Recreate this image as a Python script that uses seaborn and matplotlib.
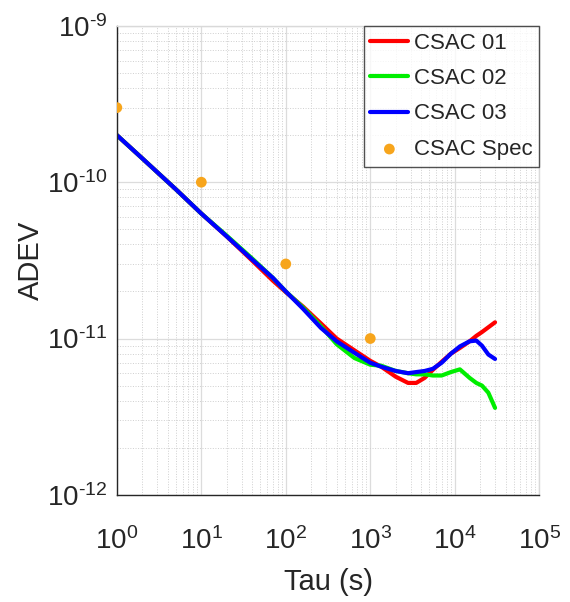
import numpy as np
import pandas as pd
import matplotlib
matplotlib.use('Agg')
import matplotlib.pyplot as plt
import matplotlib.ticker as mticker
import seaborn as sns

# Allan deviation
tau = [1, 2, 5, 10, 20, 40, 70, 100, 160, 260, 400, 650, 1000, 1350, 2000,
       2800, 3500, 4400, 5500, 7000, 9000, 11500, 15000, 18000, 21000, 25000, 30000]

csac01 = [2.0e-10, 1.42e-10, 9.0e-11, 6.3e-11, 4.5e-11, 3.15e-11, 2.35e-11, 1.98e-11,
          1.6e-11, 1.25e-11, 1.0e-11, 8.4e-12, 7.2e-12, 6.6e-12, 5.7e-12, 5.2e-12,
          5.2e-12, 5.6e-12, 6.3e-12, 7.1e-12, 8.0e-12, 8.7e-12, 9.6e-12, 1.04e-11,
          1.1e-11, 1.18e-11, 1.27e-11]
csac02 = [2.0e-10, 1.42e-10, 9.0e-11, 6.3e-11, 4.55e-11, 3.25e-11, 2.45e-11, 2.0e-11,
          1.58e-11, 1.2e-11, 9.2e-12, 7.5e-12, 6.8e-12, 6.7e-12, 6.2e-12, 6.0e-12,
          5.9e-12, 5.9e-12, 5.8e-12, 5.8e-12, 6.1e-12, 6.35e-12, 5.6e-12, 5.2e-12,
          5.0e-12, 4.5e-12, 3.6e-12]
csac03 = [2.0e-10, 1.42e-10, 9.0e-11, 6.3e-11, 4.5e-11, 3.2e-11, 2.45e-11, 2.0e-11,
          1.55e-11, 1.17e-11, 9.6e-12, 8.1e-12, 7.0e-12, 6.6e-12, 6.2e-12, 6.0e-12,
          6.1e-12, 6.2e-12, 6.4e-12, 7.0e-12, 8.0e-12, 8.9e-12, 9.6e-12, 9.7e-12,
          9.0e-12, 7.9e-12, 7.4e-12]

spec_tau = [1, 10, 100, 1000]
spec_adev = [3e-10, 1e-10, 3e-11, 1e-11]

x_ticks = [1, 10, 100, 1000, 10000, 100000]
x_labels = [r'$\mathregular{10^{0}}$', r'$\mathregular{10^{1}}$', r'$\mathregular{10^{2}}$',
            r'$\mathregular{10^{3}}$', r'$\mathregular{10^{4}}$', r'$\mathregular{10^{5}}$']
y_ticks = [1e-12, 1e-11, 1e-10, 1e-9]
y_labels = ['$\\mathregular{10^{\u201012}}$', '$\\mathregular{10^{\u201011}}$',
            '$\\mathregular{10^{\u201010}}$', '$\\mathregular{10^{\u20109}}$']

sns.set_style('white')
plt.rcParams['font.family'] = ['Liberation Sans', 'DejaVu Sans']
plt.rcParams['mathtext.fontset'] = 'custom'
plt.rcParams['mathtext.rm'] = 'Liberation Sans'
plt.rcParams['axes.unicode_minus'] = False

fig, ax = plt.subplots(figsize=(5.7, 6.02), dpi=100)
fig.subplots_adjust(left=0.205, right=0.946, bottom=0.178, top=0.957)

series = {'CSAC 01': (csac01, '#ff0000'),
          'CSAC 02': (csac02, '#00ee00'),
          'CSAC 03': (csac03, '#0000ff')}
for name, (vals, col) in series.items():
    sns.lineplot(x=tau, y=vals, ax=ax, color=col, lw=3, label=name)

sns.scatterplot(x=spec_tau, y=spec_adev, ax=ax, color='#f7a51c', s=60,
                edgecolor='none', label='CSAC Spec', zorder=5)

ax.set_xscale('log')
ax.set_yscale('log')
ax.set_xlim(1, 1e5)
ax.set_ylim(1e-12, 1e-9)

ax.xaxis.set_major_locator(mticker.FixedLocator(x_ticks))
ax.xaxis.set_major_formatter(mticker.FixedFormatter(x_labels))
ax.yaxis.set_major_locator(mticker.FixedLocator(y_ticks))
ax.yaxis.set_major_formatter(mticker.FixedFormatter(y_labels))
ax.xaxis.set_minor_locator(mticker.LogLocator(base=10, subs=np.arange(2, 10), numticks=20))
ax.yaxis.set_minor_locator(mticker.LogLocator(base=10, subs=np.arange(2, 10), numticks=20))
ax.xaxis.set_minor_formatter(mticker.NullFormatter())
ax.yaxis.set_minor_formatter(mticker.NullFormatter())

ax.grid(True, which='major', color='#dcdcdc', lw=0.9, ls='-')
ax.grid(True, which='minor', color='#cfcfcf', lw=0.7, ls=':')
ax.set_axisbelow(True)

ax.tick_params(which='both', direction='in', colors='#262626', labelsize=20)
ax.tick_params(axis='x', which='major', pad=23, length=5)
ax.tick_params(axis='y', which='major', pad=7, length=5)
ax.tick_params(which='minor', length=3)

for side in ['left', 'bottom']:
    ax.spines[side].set_color('#262626')
    ax.spines[side].set_linewidth(1.0)
for side in ['top', 'right']:
    ax.spines[side].set_color('#d9d9d9')
    ax.spines[side].set_linewidth(1.0)

ax.set_xlabel('Tau (s)', fontsize=21, color='#262626', labelpad=10)
ax.set_ylabel('ADEV', fontsize=21, color='#262626', labelpad=1)

leg = ax.legend(loc='upper right', fontsize=16, frameon=True, fancybox=False,
                borderaxespad=0, handlelength=1.7, handletextpad=0.25,
                labelspacing=0.65, borderpad=0.3)
leg.get_frame().set_edgecolor('#262626')
leg.get_frame().set_linewidth(1.0)

plt.savefig('out.png', dpi=100)
